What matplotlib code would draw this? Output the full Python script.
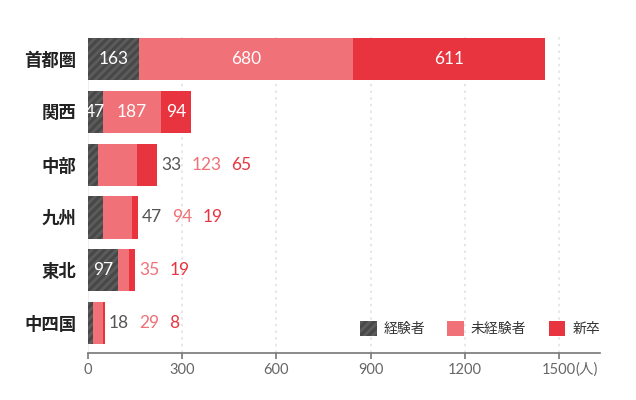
import matplotlib.pyplot as plt
from matplotlib.patches import Patch

plt.rcParams['font.family'] = ['Lato', 'Noto Sans CJK JP', 'DejaVu Sans']
plt.rcParams['hatch.linewidth'] = 2.0

regions = ["首都圏", "関西", "中部", "九州", "東北", "中四国"]
experienced = [163, 47, 33, 47, 97, 18]
inexperienced = [680, 187, 123, 94, 35, 29]
new_grad = [611, 94, 65, 19, 19, 8]
series_names = ["経験者", "未経験者", "新卒"]
# which segments get labels inside the bar (others go after the bar)
inside = [
    [True, True, True],
    [True, True, True],
    [False, False, False],
    [False, False, False],
    [True, False, False],
    [False, False, False],
]
xticks = [0, 300, 600, 900, 1200, 1500]

DARK = "#484848"
PINK = "#f07178"
RED = "#e8343f"
label_colors = ["#555555", PINK, RED]

fig = plt.figure(figsize=(6.36, 4.0), dpi=100)
ax = fig.add_axes([0.138, 0.1175, 0.862 - 0.0565, 0.79])

ys = list(range(len(regions)))
series = [experienced, inexperienced, new_grad]
left = [0] * len(regions)
for i, vals in enumerate(series):
    if i == 0:
        ax.barh(ys, vals, left=left, height=0.8, color=DARK, edgecolor="#5c5c5c",
                hatch="////", linewidth=0, zorder=3)
    else:
        ax.barh(ys, vals, left=left, height=0.8,
                color=[PINK, RED][i - 1], linewidth=0, zorder=3)
    left = [l + v for l, v in zip(left, vals)]

for x in xticks[1:]:
    ax.axvline(x, color="#e3e3e3", lw=1.2, ls=(0, (1.5, 2.5)), zorder=1)
ax.axvline(0, color="#eeeeee", lw=1.5, zorder=1)

ax.set_xlim(0, 1630)
ax.set_ylim(5.57, -0.42)

# value labels
fig.canvas.draw()
renderer = fig.canvas.get_renderer()
inv = ax.transData.inverted()
for r in range(len(regions)):
    start = 0
    for i, vals in enumerate(series):
        v = vals[r]
        if inside[r][i]:
            ax.text(start + v / 2, r, str(v), ha="center", va="center",
                    color="white", fontsize=12.5, zorder=4)
        start += v
    # outside labels, placed one after another
    x_px = ax.transData.transform((start, r))[0] + 4
    for i, vals in enumerate(series):
        if inside[r][i]:
            continue
        xd = inv.transform((x_px, 0))[0]
        t = ax.text(xd, r, str(vals[r]), ha="left", va="center",
                    color=label_colors[i], fontsize=12.5, zorder=4)
        bb = t.get_window_extent(renderer)
        x_px = bb.x1 + 10

ax.set_yticks(ys)
ax.set_yticklabels(regions, fontsize=12.5, fontweight="bold", color="#222222")
ax.tick_params(axis="y", length=0, pad=8)
ax.set_xticks(xticks)
ax.set_xticklabels([str(x) for x in xticks], fontsize=10.5, color="#666666")
ax.tick_params(axis="x", length=4, color="#777777", width=1.2, pad=3)
ax.annotate("(人)", xy=(1500, 0), xycoords=("data", "axes fraction"),
            xytext=(12, -7), textcoords="offset points", fontsize=10.5,
            color="#666666", va="top", ha="left")
for s in ["top", "right", "left"]:
    ax.spines[s].set_visible(False)
ax.spines["bottom"].set_color("#777777")
ax.spines["bottom"].set_linewidth(1.2)

handles = [
    Patch(facecolor=DARK, edgecolor="#5c5c5c", hatch="////", linewidth=0),
    Patch(facecolor=PINK, linewidth=0),
    Patch(facecolor=RED, linewidth=0),
]
ax.legend(handles, series_names, ncol=3, loc="lower right", frameon=False,
          fontsize=10, handlelength=1.2, handleheight=1.2, handletextpad=0.5,
          columnspacing=1.6, borderaxespad=0, borderpad=0,
          bbox_to_anchor=(1.0, 0.055), labelcolor="#333333")

fig.savefig("out.png", dpi=100)
